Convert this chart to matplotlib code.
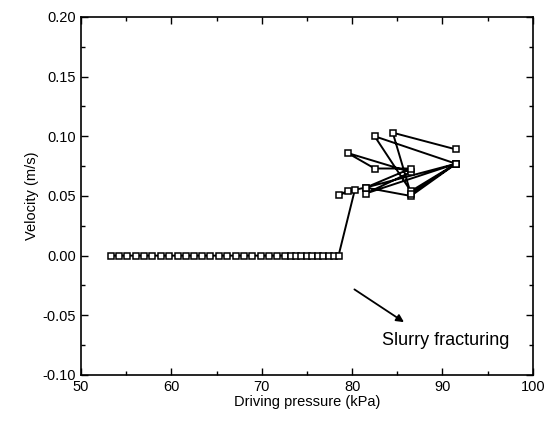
import matplotlib.pyplot as plt
import numpy as np
from matplotlib.ticker import MultipleLocator

plt.rcParams["font.family"] = ["Liberation Sans", "DejaVu Sans"]

# zero-velocity points before fracturing
zero_pressure = [53.3, 54.2, 55.1, 56.1, 57.0, 57.9, 58.8, 59.7, 60.7, 61.6, 62.5,
                 63.4, 64.3, 65.3, 66.2, 67.1, 68.0, 68.9, 69.9, 70.8, 71.7,
                 72.6, 73.2, 73.8, 74.4, 75.0, 75.6, 76.2, 76.8, 77.4, 78.0, 78.5]
zero_velocity = [0.0] * len(zero_pressure)

# points after fracturing, in plotting order
frac_pressure = [80.3, 78.5, 79.5, 81.5, 91.5, 86.5, 82.5, 91.5, 81.5, 86.5,
                 79.5, 82.5, 86.5, 81.5, 86.5, 91.5, 86.5, 84.5, 91.5]
frac_velocity = [0.055, 0.051, 0.054, 0.057, 0.077, 0.054, 0.100, 0.077, 0.052, 0.070,
                 0.086, 0.073, 0.073, 0.057, 0.050, 0.077, 0.052, 0.103, 0.089]

pressure = zero_pressure + frac_pressure
velocity = zero_velocity + frac_velocity

fig = plt.figure(figsize=(5.55, 4.23), dpi=100)
ax = fig.add_axes([0.146, 0.1135, 0.814, 0.8465])

ax.plot(pressure, velocity, color="black", lw=1.4, marker="s", ms=4.3,
        mfc="white", mec="black", mew=1.1)

ax.annotate("", xy=(86.0, -0.057), xytext=(80.0, -0.027),
            arrowprops=dict(arrowstyle="-|>", color="black", lw=1.3,
                            mutation_scale=11))
ax.text(83.3, -0.0715, "Slurry fracturing", fontsize=13, va="center")

ax.set_xlim(50, 100)
ax.set_ylim(-0.10, 0.20)
ax.xaxis.set_major_locator(MultipleLocator(10))
ax.xaxis.set_minor_locator(MultipleLocator(5))
ax.yaxis.set_major_locator(MultipleLocator(0.05))
ax.yaxis.set_minor_locator(MultipleLocator(0.025))
ax.yaxis.set_major_formatter(plt.FuncFormatter(lambda v, p: f"{v:.2f}"))
ax.tick_params(which="both", direction="in", top=True, right=True,
               labelsize=10.5, width=1.0)
ax.tick_params(which="major", length=5)
ax.tick_params(which="minor", length=3)
for s in ax.spines.values():
    s.set_linewidth(1.2)

ax.set_xlabel("Driving pressure (kPa)", fontsize=10.5, labelpad=1)
ax.set_ylabel("Velocity (m/s)", fontsize=10.5, labelpad=3)

fig.savefig("out.png", dpi=100)
